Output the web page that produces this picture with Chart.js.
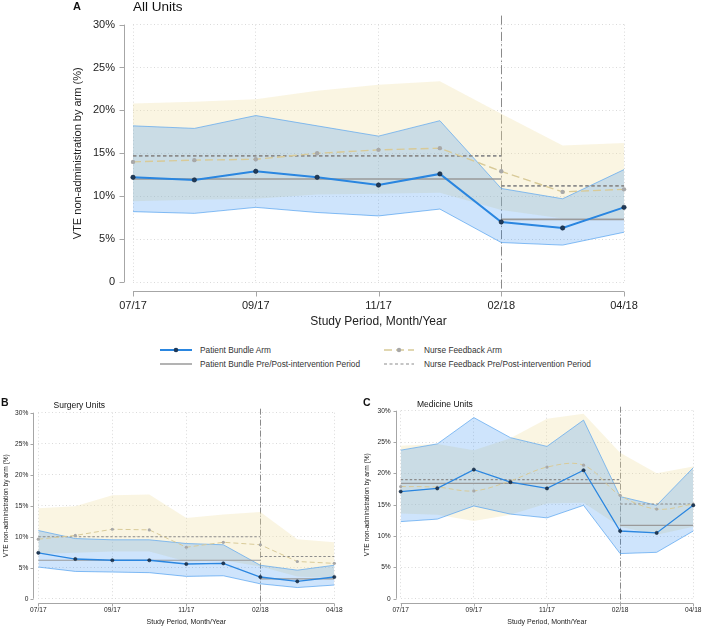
<!DOCTYPE html>
<html>
<head>
<meta charset="utf-8">
<script src="https://cdn.jsdelivr.net/npm/chart.js@4.4.0/dist/chart.umd.min.js"></script>
<style>
  body { margin: 0; background: #fff; font-family: "Liberation Sans", Arial, sans-serif; }
  #wrap { position: relative; width: 709px; height: 626px; overflow: hidden; }
  #wrap canvas { position: absolute; }
  .key { position: absolute; display: flex; align-items: center; height: 14px; font-size: 8.3px; color: #333; white-space: nowrap; }
  .key svg { display: block; }
</style>
</head>
<body>
<div id="wrap">
  <canvas id="chartA" width="709" height="335" style="left:0;top:0"></canvas>

  <div class="key" style="left:160px;top:343px;gap:8px">
    <svg width="32" height="14"><line x1="0" y1="7" x2="32" y2="7" stroke="#2a86e0" stroke-width="2"/><circle cx="16" cy="7" r="2.3" fill="#1f3a5a"/></svg>
    <span>Patient Bundle Arm</span>
  </div>
  <div class="key" style="left:160px;top:357px;gap:8px">
    <svg width="32" height="14"><line x1="0" y1="7" x2="32" y2="7" stroke="#9a9a9a" stroke-width="1.5"/></svg>
    <span>Patient Bundle Pre/Post-intervention Period</span>
  </div>
  <div class="key" style="left:384px;top:343px;gap:10px">
    <svg width="30" height="14"><line x1="0" y1="7" x2="30" y2="7" stroke="#d8ca98" stroke-width="1.5" stroke-dasharray="8 4"/><circle cx="15" cy="7" r="2.2" fill="#a8a8a8"/></svg>
    <span>Nurse Feedback Arm</span>
  </div>
  <div class="key" style="left:384px;top:357px;gap:10px">
    <svg width="30" height="14"><line x1="0" y1="7" x2="30" y2="7" stroke="#8c8c8c" stroke-width="1.2" stroke-dasharray="3 2.5"/></svg>
    <span>Nurse Feedback Pre/Post-intervention Period</span>
  </div>

  <canvas id="chartB" width="355" height="241" style="left:0;top:385px"></canvas>
  <canvas id="chartC" width="354" height="241" style="left:355px;top:385px"></canvas>
</div>

<script>
// months on the x axis (01/18 is not in the study period)
const months = ['07/17', '08/17', '09/17', '10/17', '11/17', '12/17', '02/18', '03/18', '04/18'];
const shownTicks = ['07/17', '09/17', '11/17', '02/18', '04/18'];
const interventionMonth = '02/18';
const yTicks = [0, 5, 10, 15, 20, 25, 30];

// A - all units
const aBundle   = [12.2, 11.9, 12.9, 12.2, 11.3, 12.6, 7.0, 6.3, 8.7];
const aBundleHi = [18.2, 17.9, 19.4, 18.2, 17.0, 18.8, 10.9, 9.7, 13.1];
const aBundleLo = [8.2, 8.0, 8.7, 8.1, 7.7, 8.5, 4.6, 4.3, 5.8];
const aNurse    = [14.0, 14.2, 14.3, 15.0, 15.4, 15.6, 12.9, 10.5, 10.8];
const aNurseHi  = [20.8, 21.0, 21.3, 22.3, 23.0, 23.4, 19.6, 15.9, 16.2];
const aNurseLo  = [9.4, 9.6, 9.7, 10.2, 10.3, 10.4, 8.4, 7.4, 7.4];
const aBundlePeriod = [12.0, 7.3];   // pre, post
const aNursePeriod  = [14.7, 11.2];

// B - surgery units
const bBundle   = [7.4, 6.4, 6.2, 6.2, 5.6, 5.7, 3.5, 2.8, 3.5];
const bBundleHi = [11.0, 9.7, 9.5, 9.5, 8.9, 8.7, 5.4, 4.6, 5.4];
const bBundleLo = [5.1, 4.4, 4.3, 4.2, 3.6, 3.7, 2.4, 1.8, 2.2];
const bNurse    = [9.6, 10.2, 11.2, 11.1, 8.3, 9.1, 8.7, 6.0, 5.7];
const bNurseHi  = [14.6, 14.9, 16.7, 16.8, 13.0, 13.6, 14.0, 9.6, 9.1];
const bNurseLo  = [7.2, 7.4, 7.6, 7.6, 6.0, 6.2, 5.2, 3.6, 3.3];
const bBundlePeriod = [6.2, 3.2];
const bNursePeriod  = [10.0, 6.8];

// C - medicine units
const cBundle   = [17.1, 17.6, 20.6, 18.6, 17.6, 20.5, 10.8, 10.5, 14.9];
const cBundleHi = [23.7, 24.7, 28.9, 25.7, 24.3, 28.5, 16.3, 14.9, 20.9];
const cBundleLo = [12.3, 12.7, 14.8, 13.5, 12.9, 14.9, 7.2, 7.4, 10.8];
const cNurse    = [17.9, 17.8, 17.2, 18.8, 21.0, 21.3, 16.5, 14.3, 15.1];
const cNurseHi  = [24.4, 24.7, 23.7, 25.6, 28.7, 29.5, 23.3, 20.0, 21.1];
const cNurseLo  = [13.6, 13.4, 12.4, 13.4, 15.2, 15.3, 11.5, 10.2, 11.5];
const cBundlePeriod = [18.4, 11.7];
const cNursePeriod  = [19.0, 15.1];

const FONT = '"Liberation Sans", Arial, sans-serif';
const yellowFill = 'rgba(238,222,160,0.3)';
const blueFill = 'rgba(30,130,240,0.22)';
const blueEdge = 'rgba(90,165,240,0.7)';
const gridColor = '#dadada';
const clear = 'rgba(0,0,0,0)';

// stata style detached axes, divider line and panel headings
const stataPlugin = {
  id: 'stata',
  beforeDatasetsDraw(chart, args, o) {
    const { ctx, chartArea, scales: { x } } = chart;
    const xp = Math.round(x.getPixelForValue(months.indexOf(interventionMonth))) + 0.5;
    ctx.save();
    ctx.strokeStyle = '#8a8a8a';
    ctx.lineWidth = 1;
    ctx.setLineDash(o.dashDot);
    ctx.beginPath();
    ctx.moveTo(xp, chartArea.top - o.divTop);
    ctx.lineTo(xp, chartArea.bottom + o.gapY);
    ctx.stroke();
    ctx.restore();
  },
  afterDraw(chart, args, o) {
    const { ctx, chartArea, scales: { x, y } } = chart;
    const ax = Math.round(chartArea.left - o.gapX) + 0.5;
    const ay = Math.round(chartArea.bottom + o.gapY) + 0.5;
    ctx.save();
    ctx.strokeStyle = '#a6a6a6';
    ctx.lineWidth = 1;
    ctx.beginPath();
    ctx.moveTo(ax, y.getPixelForValue(30));
    ctx.lineTo(ax, y.getPixelForValue(0));
    yTicks.forEach(v => {
      const py = Math.round(y.getPixelForValue(v)) + 0.5;
      ctx.moveTo(ax - o.tick, py);
      ctx.lineTo(ax, py);
    });
    ctx.moveTo(x.getPixelForValue(0), ay);
    ctx.lineTo(x.getPixelForValue(months.length - 1), ay);
    shownTicks.forEach(m => {
      const px = Math.round(x.getPixelForValue(months.indexOf(m))) + 0.5;
      ctx.moveTo(px, ay);
      ctx.lineTo(px, ay + o.tick);
    });
    ctx.stroke();

    ctx.fillStyle = '#111';
    ctx.textBaseline = 'middle';
    ctx.textAlign = 'left';
    ctx.font = 'bold ' + o.letterSize + 'px ' + FONT;
    ctx.fillText(o.letter, o.letterX, o.letterY);
    ctx.font = o.titleSize + 'px ' + FONT;
    ctx.fillText(o.title, o.titleX, o.titleY);
    ctx.restore();
  }
};

function makePanel(id, p) {
  const first = months[0];
  const last = months[months.length - 1];
  const seg = (v, a, b) => [{ x: a, y: v }, { x: b, y: v }];

  const datasets = [
    { data: p.nurseHi, fill: '+1', backgroundColor: yellowFill, borderColor: clear, borderWidth: 0, order: 10 },
    { data: p.nurseLo, fill: false, borderColor: clear, borderWidth: 0, order: 10 },
    { data: p.bundleHi, fill: '+1', backgroundColor: blueFill, borderColor: blueEdge, borderWidth: 1, order: 9 },
    { data: p.bundleLo, fill: false, borderColor: blueEdge, borderWidth: 1, order: 9 },
    { data: seg(p.bundlePeriod[0], first, interventionMonth), borderColor: '#9a9a9a', borderWidth: p.refW, order: 5 },
    { data: seg(p.bundlePeriod[1], interventionMonth, last), borderColor: '#9a9a9a', borderWidth: p.refW, order: 5 },
    { data: seg(p.nursePeriod[0], first, interventionMonth), borderColor: '#8c8c8c', borderWidth: p.refW, borderDash: p.refDash, order: 5 },
    { data: seg(p.nursePeriod[1], interventionMonth, last), borderColor: '#8c8c8c', borderWidth: p.refW, borderDash: p.refDash, order: 5 },
    {
      data: p.nurse, borderColor: '#d8ca98', borderWidth: p.nurseW, borderDash: p.nurseDash,
      tension: p.nurseTension, pointRadius: p.ptR, pointBackgroundColor: '#a8a8a8', pointBorderWidth: 0, order: 2
    },
    {
      data: p.bundle, borderColor: '#2a86e0', borderWidth: p.bundleW,
      pointRadius: p.ptR, pointBackgroundColor: '#1f3a5a', pointBorderColor: '#14263a', pointBorderWidth: 0.6, order: 1
    }
  ];

  new Chart(document.getElementById(id), {
    type: 'line',
    data: { labels: months, datasets: datasets },
    plugins: [stataPlugin],
    options: {
      responsive: false,
      animation: false,
      devicePixelRatio: 1,
      elements: { point: { radius: 0 }, line: { tension: 0 } },
      layout: { padding: p.pad },
      plugins: {
        legend: { display: false },
        tooltip: { enabled: false },
        stata: p.stata
      },
      scales: {
        x: {
          type: 'category',
          offset: false,
          afterFit: s => { s.height = p.xH; },
          border: { display: false, dash: [1, 2.5] },
          grid: {
            drawTicks: false,
            color: c => shownTicks.includes(months[c.index]) ? gridColor : clear
          },
          ticks: {
            autoSkip: false, maxRotation: 0, minRotation: 0,
            padding: p.xTickPad, color: '#222',
            font: { family: FONT, size: p.tickSize },
            callback: (v, i) => shownTicks.includes(months[i]) ? months[i] : ''
          },
          title: {
            display: true, text: 'Study Period, Month/Year', color: '#222',
            font: { family: FONT, size: p.axisTitleSize },
            padding: { top: 0, bottom: p.xTitlePad }
          }
        },
        y: {
          min: 0, max: 30,
          afterFit: s => { s.width = p.yW; },
          border: { display: false, dash: [1, 2.5] },
          grid: { drawTicks: false, color: gridColor },
          ticks: {
            stepSize: 5, padding: p.yTickPad, color: '#222',
            font: { family: FONT, size: p.tickSize },
            callback: v => v === 0 ? '0' : v + '%'
          },
          title: {
            display: true, text: 'VTE non-administration by arm (%)', color: '#222',
            font: { family: FONT, size: p.yTitleSize },
            padding: { top: p.yTitlePad, bottom: 0 }
          }
        }
      }
    }
  });
}

makePanel('chartA', {
  bundle: aBundle, bundleHi: aBundleHi, bundleLo: aBundleLo,
  nurse: aNurse, nurseHi: aNurseHi, nurseLo: aNurseLo,
  bundlePeriod: aBundlePeriod, nursePeriod: aNursePeriod,
  pad: { left: 70, right: 85, top: 17, bottom: 0 },
  yW: 63, xH: 53, yTickPad: 18, xTickPad: 17, xTitlePad: 6, yTitlePad: 1,
  tickSize: 11, axisTitleSize: 12, yTitleSize: 11,
  refW: 1.6, refDash: [3.5, 2.5], nurseW: 1.4, nurseDash: [8, 4], nurseTension: 0,
  bundleW: 2, ptR: 2.2,
  stata: {
    gapX: 9.5, gapY: 8.5, tick: 5, divTop: 9, dashDot: [9, 3, 1.5, 3],
    letter: 'A', letterSize: 11, letterX: 73, letterY: 7,
    title: 'All Units', titleSize: 13.5, titleX: 133, titleY: 7
  }
});

makePanel('chartB', {
  bundle: bBundle, bundleHi: bBundleHi, bundleLo: bBundleLo,
  nurse: bNurse, nurseHi: bNurseHi, nurseLo: bNurseLo,
  bundlePeriod: bBundlePeriod, nursePeriod: bNursePeriod,
  pad: { left: 0, right: 20.7, top: 27.7, bottom: 0 },
  yW: 38.3, xH: 27.3, yTickPad: 10, xTickPad: 7.5, xTitlePad: 0, yTitlePad: 2,
  tickSize: 6.6, axisTitleSize: 7, yTitleSize: 6.6,
  refW: 1.1, refDash: [2.5, 2], nurseW: 1, nurseDash: [5, 3], nurseTension: 0,
  bundleW: 1.3, ptR: 1.6,
  stata: {
    gapX: 5.3, gapY: 4.4, tick: 3, divTop: 4, dashDot: [6, 2, 1, 2],
    letter: 'B', letterSize: 10.5, letterX: 1, letterY: 18,
    title: 'Surgery Units', titleSize: 8.5, titleX: 53.5, titleY: 20.5
  }
});

makePanel('chartC', {
  bundle: cBundle, bundleHi: cBundleHi, bundleLo: cBundleLo,
  nurse: cNurse, nurseHi: cNurseHi, nurseLo: cNurseLo,
  bundlePeriod: cBundlePeriod, nursePeriod: cNursePeriod,
  pad: { left: 0, right: 9.7, top: 25.7, bottom: 0 },
  yW: 45.7, xH: 27.3, yTickPad: 10, xTickPad: 7.5, xTitlePad: 0, yTitlePad: 8.7,
  tickSize: 6.6, axisTitleSize: 7, yTitleSize: 6.6,
  refW: 1.1, refDash: [2.5, 2], nurseW: 1, nurseDash: [5, 3], nurseTension: 0.35,
  bundleW: 1.3, ptR: 1.6,
  stata: {
    gapX: 5, gapY: 4.6, tick: 3, divTop: 4, dashDot: [6, 2, 1, 2],
    letter: 'C', letterSize: 10.5, letterX: 8, letterY: 18,
    title: 'Medicine Units', titleSize: 8.5, titleX: 62, titleY: 20
  }
});
</script>
</body>
</html>
